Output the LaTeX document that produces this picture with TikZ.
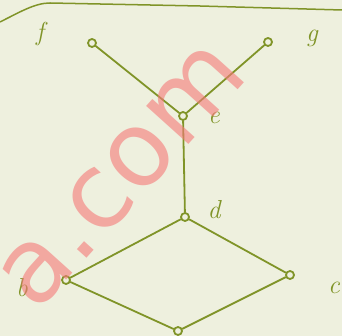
\documentclass[tikz,border=0pt]{standalone}
\usepackage{fontspec}
\newfontfamily\wmfont{DejaVu Sans}
\definecolor{paper}{RGB}{238,240,222}
\definecolor{ink}{RGB}{128,148,40}
\definecolor{wm}{RGB}{245,120,120}
\begin{document}
\begin{tikzpicture}[x=1pt,y=-1pt,
  vtx/.style={circle,draw=ink,fill=paper,line width=1.8pt,inner sep=0pt,minimum size=8pt},
  edge/.style={draw=ink,line width=1.8pt,line cap=round},
  lbl/.style={text=ink,font=\fontsize{26}{26}\selectfont\itshape}]
\fill[paper] (0,0) rectangle (342,336);
\useasboundingbox (0,0) rectangle (342,336);
\draw[ink,line width=1.5pt] (0,22) .. controls (20,12) and (35,3) .. (50,3) -- (200,6) -- (342,10);
\node[vtx] (f) at (92,43) {};
\node[vtx] (g) at (268,42) {};
\node[vtx] (e) at (183,116) {};
\node[vtx] (d) at (185,217) {};
\node[vtx] (b) at (66,280) {};
\node[vtx] (c) at (290,275) {};
\node[vtx] (a) at (178,331) {};
\draw[edge] (f) -- (e);
\draw[edge] (g) -- (e);
\draw[edge] (e) -- (d);
\draw[edge] (d) -- (b);
\draw[edge] (d) -- (c);
\draw[edge] (b) -- (a);
\draw[edge] (c) -- (a);
\node[lbl] (lf) at (40,34) {f};
\node[lbl] (lg) at (312,38) {g};
\node[lbl] (le) at (214,118) {e};
\node[lbl] (ld) at (214,210) {d};
\node[lbl] (lb) at (22,288) {b};
\node[lbl] (lc) at (334,288) {c};
\node[text=wm,opacity=0.6,rotate=48,font=\wmfont\fontsize{104}{104}\selectfont] (wmark) at (122,176) {a.com};
\end{tikzpicture}
\end{document}
